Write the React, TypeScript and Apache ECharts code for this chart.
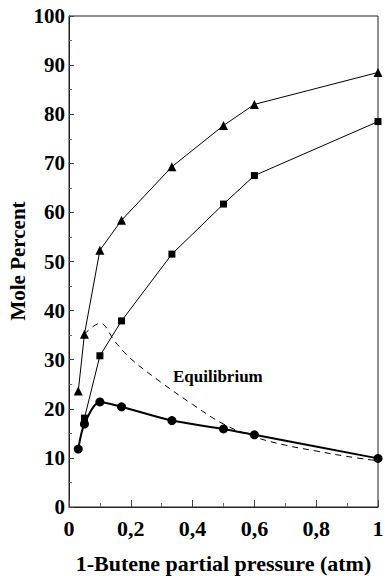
import React, { useEffect, useRef } from "react";
import * as echarts from "echarts";

// 1-butene partial pressure (atm) vs. mole percent
const triangleData: [number, number][] = [
  [0.03, 23.6], [0.05, 35.2], [0.1, 52.3], [0.17, 58.4],
  [0.333, 69.3], [0.5, 77.7], [0.6, 82.0], [1.0, 88.5],
];
const squareData: [number, number][] = [
  [0.05, 18.1], [0.1, 30.8], [0.17, 37.9], [0.333, 51.5],
  [0.5, 61.7], [0.6, 67.5], [1.0, 78.5],
];
const circleData: [number, number][] = [
  [0.03, 11.8], [0.05, 16.9], [0.1, 21.4], [0.17, 20.4],
  [0.333, 17.6], [0.5, 15.9], [0.6, 14.7], [1.0, 9.9],
];
const equilibriumData: [number, number][] = [
  [0.05, 35.2], [0.1, 37.4], [0.15, 33.6], [0.2, 30.2], [0.3, 25.3],
  [0.4, 20.9], [0.5, 16.9], [0.6, 14.3], [0.7, 12.6], [0.8, 11.4],
  [0.9, 10.3], [1.0, 9.4],
];
const xTitle = "1-Butene partial pressure (atm)";
const yTitle = "Mole Percent";
const equilibriumLabel = "Equilibrium";

const FONT = "Liberation Serif, Times New Roman, serif";

export default function App() {
  const ref = useRef<HTMLDivElement>(null);

  useEffect(() => {
    if (!ref.current) return;
    const chart = echarts.init(ref.current, null, { renderer: "svg" });
    const labelStyle = {
      fontFamily: FONT,
      fontWeight: "bold" as const,
      color: "#000",
    };
    chart.setOption({
      animation: false,
      backgroundColor: "#fff",
      grid: {
        left: 69,
        top: 16,
        width: 309,
        height: 491,
        outerBoundsMode: "none",
        containLabel: false,
        show: true,
        borderColor: "#222",
        borderWidth: 1,
        backgroundColor: "transparent",
      },
      xAxis: {
        type: "value",
        min: 0,
        max: 1,
        interval: 0.2,
        name: xTitle,
        nameLocation: "middle",
        nameGap: 45,
        nameTextStyle: { ...labelStyle, fontSize: 22 },
        axisLine: { lineStyle: { color: "#222", width: 1 } },
        axisTick: { inside: true, length: 7, lineStyle: { color: "#444" } },
        minorTick: { show: true, splitNumber: 2, length: 4, lineStyle: { color: "#666" } },
        splitLine: { show: false },
        axisLabel: {
          ...labelStyle,
          fontSize: 22,
          margin: 10,
          formatter: (v: number) =>
            v === 0 ? "0" : v === 1 ? "1" : v.toFixed(1).replace(".", ","),
        },
      },
      yAxis: {
        type: "value",
        min: 0,
        max: 100,
        interval: 10,
        axisLine: { show: true, lineStyle: { color: "#222", width: 1 } },
        axisTick: { show: true, inside: true, length: 5, lineStyle: { color: "#444" } },
        minorTick: { show: true, splitNumber: 2, length: 3, lineStyle: { color: "#666" } },
        splitLine: { show: false },
        axisLabel: { ...labelStyle, fontSize: 21, margin: 4 },
      },
      series: [
        {
          type: "line",
          data: equilibriumData,
          smooth: 0.4,
          symbol: "none",
          lineStyle: { color: "#000", width: 1, type: [6, 5] },
          z: 1,
        },
        {
          type: "line",
          data: triangleData,
          symbol: "triangle",
          symbolSize: 9,
          itemStyle: { color: "#000" },
          lineStyle: { color: "#000", width: 1 },
          z: 3,
        },
        {
          type: "line",
          data: squareData,
          symbol: "rect",
          symbolSize: 7,
          itemStyle: { color: "#000" },
          lineStyle: { color: "#000", width: 1 },
          z: 3,
        },
        {
          type: "line",
          data: circleData,
          smooth: 0.3,
          symbol: "circle",
          symbolSize: 9,
          itemStyle: { color: "#000" },
          lineStyle: { color: "#000", width: 2 },
          z: 4,
        },
      ],
      graphic: [
        {
          type: "text",
          x: 18,
          y: 261,
          rotation: Math.PI / 2,
          style: {
            text: yTitle,
            font: `bold 21px ${FONT}`,
            fill: "#000",
            align: "center",
            verticalAlign: "middle",
          },
        },
        {
          type: "text",
          left: 173,
          top: 368,
          style: {
            text: equilibriumLabel,
            font: `bold 17px ${FONT}`,
            fill: "#000",
          },
        },
      ],
    });
    return () => chart.dispose();
  }, []);

  return (
    <div
      ref={ref}
      style={{ position: "fixed", left: 0, top: 0, width: 385, height: 576 }}
    />
  );
}
